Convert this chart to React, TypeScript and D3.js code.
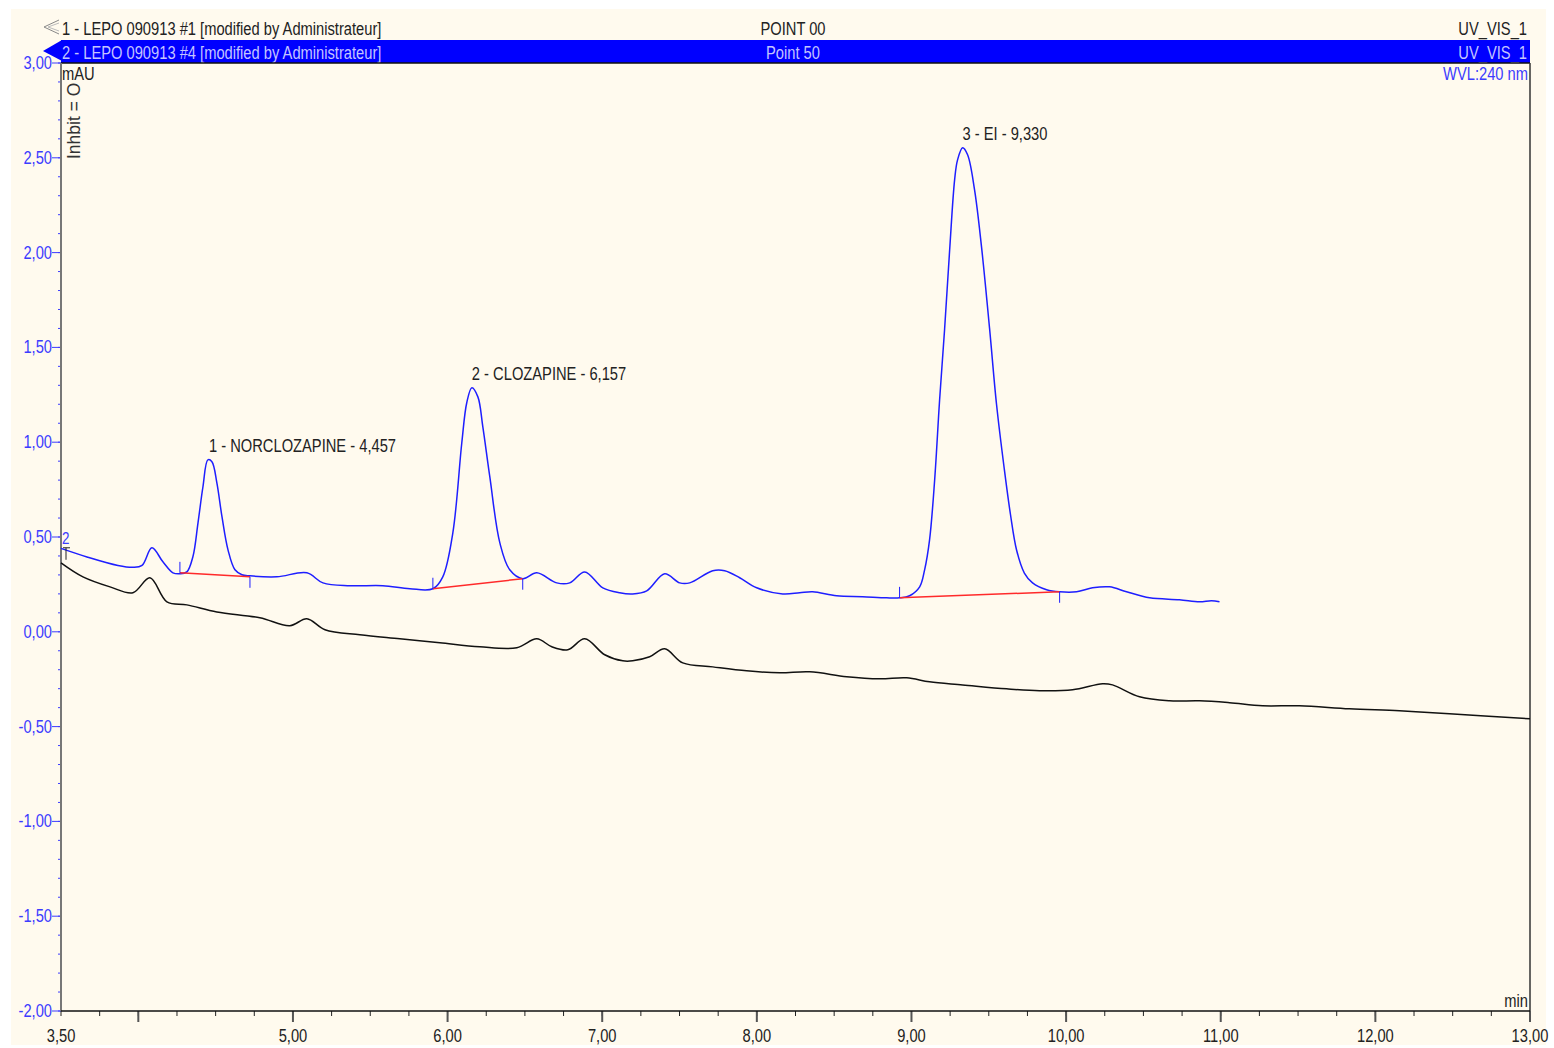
import { scaleLinear, line, curveCatmullRom, range, format } from "d3";

const width = 1554;
const height = 1048;
const PLOT = { left: 61, right: 1530, top: 63, bottom: 1011 };
const FONT = "'Liberation Sans', Arial, sans-serif";
const NARROW = 0.84; // the original uses a condensed face

// trace 2 (blue) : LEPO 090913 #4, Point 50
const blueTime = [3.5, 3.668, 3.868, 3.965, 4.024, 4.088, 4.159, 4.224, 4.269, 4.314, 4.353, 4.386, 4.418, 4.45, 4.476, 4.508, 4.541, 4.58, 4.625, 4.67, 4.722, 4.896, 5.09, 5.194, 5.368, 5.581, 5.756, 5.905, 5.969, 6.034, 6.092, 6.124, 6.157, 6.196, 6.228, 6.273, 6.338, 6.402, 6.486, 6.577, 6.706, 6.79, 6.887, 7.004, 7.113, 7.197, 7.288, 7.404, 7.501, 7.566, 7.715, 7.792, 7.889, 7.999, 8.167, 8.277, 8.361, 8.516, 8.684, 8.839, 8.923, 8.988, 9.053, 9.085, 9.117, 9.15, 9.182, 9.214, 9.247, 9.279, 9.298, 9.331, 9.363, 9.408, 9.453, 9.505, 9.55, 9.6, 9.64, 9.68, 9.73, 9.783, 9.874, 9.958, 10.068, 10.171, 10.281, 10.391, 10.54, 10.733, 10.863, 10.94, 10.992];
const blueAbs = [0.44, 0.395, 0.35, 0.34, 0.35, 0.443, 0.369, 0.311, 0.306, 0.316, 0.396, 0.575, 0.765, 0.907, 0.897, 0.786, 0.607, 0.432, 0.327, 0.301, 0.295, 0.29, 0.311, 0.258, 0.243, 0.243, 0.227, 0.227, 0.29, 0.522, 0.997, 1.208, 1.287, 1.239, 1.081, 0.818, 0.469, 0.327, 0.28, 0.311, 0.258, 0.258, 0.316, 0.232, 0.206, 0.2, 0.216, 0.306, 0.258, 0.258, 0.322, 0.322, 0.285, 0.232, 0.2, 0.206, 0.211, 0.19, 0.185, 0.179, 0.179, 0.19, 0.237, 0.327, 0.485, 0.802, 1.224, 1.593, 2.015, 2.384, 2.489, 2.553, 2.516, 2.331, 2.03, 1.6, 1.2, 0.86, 0.62, 0.43, 0.31, 0.258, 0.222, 0.211, 0.211, 0.232, 0.237, 0.211, 0.179, 0.169, 0.158, 0.164, 0.158];

// trace 1 (black) : LEPO 090913 #1, POINT 00
const blackTime = [3.5, 3.642, 3.817, 3.965, 4.075, 4.185, 4.314, 4.508, 4.786, 4.98, 5.09, 5.207, 5.433, 5.691, 5.95, 6.208, 6.448, 6.577, 6.674, 6.777, 6.887, 7.016, 7.133, 7.197, 7.307, 7.404, 7.521, 7.715, 7.934, 8.148, 8.342, 8.581, 8.794, 8.969, 9.117, 9.331, 9.615, 9.828, 10.042, 10.236, 10.3, 10.475, 10.669, 10.863, 11.057, 11.27, 11.509, 11.832, 12.156, 12.479, 13.0];
const blackAbs = [0.364, 0.29, 0.237, 0.206, 0.285, 0.158, 0.142, 0.105, 0.074, 0.032, 0.069, 0.011, -0.016, -0.037, -0.058, -0.079, -0.084, -0.037, -0.079, -0.095, -0.037, -0.121, -0.153, -0.153, -0.132, -0.09, -0.164, -0.185, -0.206, -0.216, -0.211, -0.237, -0.248, -0.243, -0.264, -0.28, -0.301, -0.311, -0.306, -0.274, -0.28, -0.343, -0.364, -0.364, -0.374, -0.39, -0.39, -0.406, -0.417, -0.432, -0.459];

// integrated peaks
const peakLabels = ["1 - NORCLOZAPINE - 4,457", "2 - CLOZAPINE - 6,157", "3 - EI - 9,330"];
const peakTimes = [4.457, 6.157, 9.33];
const peakTops = [0.907, 1.287, 2.553];
const baseStartTime = [4.269, 5.905, 8.923];
const baseStartAbs = [0.311, 0.227, 0.179];
const baseEndTime = [4.722, 6.486, 9.958];
const baseEndAbs = [0.29, 0.28, 0.211];

// axis ticks
const xLabelValues = [3.5, 5, 6, 7, 8, 9, 10, 11, 12, 13];
const xMajorValues = [4, 5, 6, 7, 8, 9, 10, 11, 12, 13];
const yLabelValues = [3, 2.5, 2, 1.5, 1, 0.5, 0, -0.5, -1, -1.5, -2];

const BLUE = "#1e1eff";
const LABEL_BLUE = "#3c3cff";

const x = scaleLinear().domain([3.5, 13]).range([PLOT.left, PLOT.right]);
const y = scaleLinear().domain([-2, 3]).range([PLOT.bottom, PLOT.top]);
const fmt = (v: number) => format(".2f")(v).replace(".", ",").replace("\u2212", "-");

type TProps = { x: number; y: number; fill: string; anchor?: string; size?: number; rotate?: number; sx?: number; children: any };
function T({ x, y, fill, anchor = "start", size = 17.5, rotate = 0, sx = NARROW, children }: TProps) {
  return (
    <text
      transform={`translate(${x},${y}) rotate(${rotate}) scale(${sx},1)`}
      fontSize={size}
      fill={fill}
      textAnchor={anchor}
    >
      {children}
    </text>
  );
}

export default function App() {
  const trace = line<[number, number]>()
    .x((d) => x(d[0]))
    .y((d) => y(d[1]))
    .curve(curveCatmullRom.alpha(0.5));

  const blueData = blueTime.map((t, i) => [t, blueAbs[i]] as [number, number]);
  const blackData = blackTime.map((t, i) => [t, blackAbs[i]] as [number, number]);

  const yMinor = range(-20, 31).map((k) => k / 10);
  const xMinor = range(14, 53).map((k) => k / 4);

  return (
    <div style={{ position: "absolute", left: 0, top: 0 }}>
      <svg width={width} height={height} style={{ display: "block", fontFamily: FONT }}>
        <rect width={width} height={height} fill="#ffffff" />
        <rect x={11} y={9} width={1535} height={1036} fill="#fffaee" />

        {/* header row 1 */}
        <polyline points="59,20 44,27 59,34" fill="none" stroke="#888" strokeWidth={1} />
        <polyline points="59,23 48,27 59,31" fill="none" stroke="#bbb" strokeWidth={1} />
        <T x={62} y={35} fill="#222">1 - LEPO 090913 #1 [modified by Administrateur]</T>
        <T x={793} y={35} fill="#222" anchor="middle">POINT 00</T>
        <T x={1527} y={35} fill="#222" anchor="end">UV_VIS_1</T>

        {/* header row 2 (selected) */}
        <rect x={PLOT.left} y={40} width={PLOT.right - PLOT.left} height={23} fill="#0000ff" />
        <polygon points="43,51 62,40 62,61" fill="#0000ff" />
        <T x={62} y={59} fill="#c4c4ff">2 - LEPO 090913 #4 [modified by Administrateur]</T>
        <T x={793} y={59} fill="#c4c4ff" anchor="middle">Point 50</T>
        <T x={1527} y={59} fill="#c4c4ff" anchor="end">UV_VIS_1</T>

        {/* frame */}
        <line x1={PLOT.left} x2={PLOT.right} y1={PLOT.top} y2={PLOT.top} stroke="#111" strokeWidth={1.5} />
        <line x1={PLOT.right} x2={PLOT.right} y1={PLOT.top} y2={PLOT.bottom} stroke="#333" strokeWidth={1.5} />
        <T x={1528} y={80} fill={LABEL_BLUE} anchor="end">WVL:240 nm</T>
        <T x={62} y={80} fill="#222">mAU</T>
        <T x={80} y={159} fill="#333" rotate={-90} sx={1}>Inhbit = O</T>

        {/* y axis */}
        {yMinor.map((v) => (
          <line key={`ym${v}`} x1={PLOT.left - 3} x2={PLOT.left} y1={y(v)} y2={y(v)} stroke={LABEL_BLUE} strokeWidth={1} />
        ))}
        {yLabelValues.map((v) => (
          <g key={`yl${v}`}>
            <line x1={PLOT.left - 9} x2={PLOT.left} y1={y(v)} y2={y(v)} stroke={LABEL_BLUE} strokeWidth={1} />
            <T x={PLOT.left - 9} y={y(v) + 6} fill={LABEL_BLUE} anchor="end">{fmt(v)}</T>
          </g>
        ))}
        <line x1={PLOT.left} x2={PLOT.left} y1={PLOT.top} y2={PLOT.bottom} stroke="#777" strokeWidth={2} />

        {/* x axis */}
        {xMinor.map((v) => (
          <line key={`xm${v}`} x1={x(v)} x2={x(v)} y1={PLOT.bottom} y2={PLOT.bottom + 5} stroke="#222" strokeWidth={1} />
        ))}
        {xMajorValues.map((v) => (
          <line key={`xM${v}`} x1={x(v)} x2={x(v)} y1={PLOT.bottom} y2={PLOT.bottom + 11} stroke="#555" strokeWidth={2} />
        ))}
        {xLabelValues.map((v) => (
          <T key={`xl${v}`} x={x(v)} y={1042} fill="#222" anchor="middle">{fmt(v)}</T>
        ))}
        <line x1={PLOT.left} x2={PLOT.right} y1={PLOT.bottom} y2={PLOT.bottom} stroke="#111" strokeWidth={1.5} />
        <T x={1528} y={1007} fill="#222" anchor="end">min</T>

        {/* traces */}
        <path d={trace(blackData) || ""} fill="none" stroke="#111" strokeWidth={1.5} />
        <path d={trace(blueData) || ""} fill="none" stroke={BLUE} strokeWidth={1.5} />

        {/* trace markers at start */}
        <T x={62} y={y(blueAbs[0]) - 4} fill={LABEL_BLUE} size={16}>2</T>
        <line x1={63} x2={70} y1={y(blackAbs[0]) - 15} y2={y(blackAbs[0]) - 15} stroke="#222" strokeWidth={1} />
        <line x1={66} x2={66} y1={y(blackAbs[0]) - 15} y2={y(blackAbs[0]) - 3} stroke="#222" strokeWidth={1} />

        {/* integration baselines and delimiters */}
        {peakLabels.map((name, i) => (
          <g key={name}>
            <line x1={x(baseStartTime[i])} x2={x(baseEndTime[i])} y1={y(baseStartAbs[i])} y2={y(baseEndAbs[i])} stroke="#ff2a2a" strokeWidth={1.5} />
            <line x1={x(baseStartTime[i])} x2={x(baseStartTime[i])} y1={y(baseStartAbs[i]) - 11} y2={y(baseStartAbs[i])} stroke={BLUE} strokeWidth={1} />
            <line x1={x(baseEndTime[i])} x2={x(baseEndTime[i])} y1={y(baseEndAbs[i])} y2={y(baseEndAbs[i]) + 11} stroke={BLUE} strokeWidth={1} />
            <T x={x(peakTimes[i])} y={y(peakTops[i]) - 8} fill="#222">{name}</T>
          </g>
        ))}
      </svg>
    </div>
  );
}
